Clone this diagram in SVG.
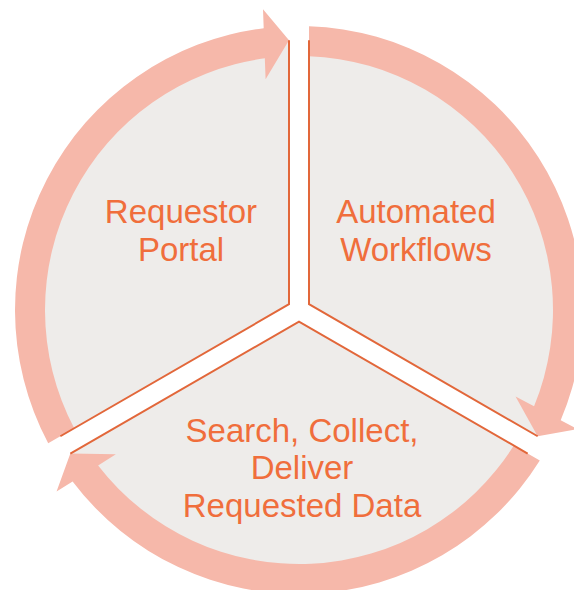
<svg xmlns="http://www.w3.org/2000/svg" width="574" height="590" viewBox="0 0 574 590">
  <style>
    .sector { fill: #EEECEA; stroke: none; }
    .arrow { fill: #F6B8AA; stroke: none; }
    .divider { fill: none; stroke: #E2673A; stroke-width: 2; stroke-linejoin: miter; }
    .label { font-family: "Liberation Sans", Arial, sans-serif; font-size: 33px; fill: #F06E3C; text-anchor: middle; }
  </style>
  <defs>
    <path id="sectorShape" d="M 289 304.23 L 289 40.19 A 270 270 0 0 0 60.34 436.25 Z"/>
    <path id="arrowShape" d="M 74.20 428.24 L 48.20 443.25 A 284 284 0 0 1 263.70 28.20 L 263.00 9.28 L 289.00 40.19 L 265.60 79.24 L 264.81 58.31 A 254 254 0 0 0 74.20 428.24 Z"/>
  </defs>
  <rect width="574" height="590" fill="#FFFFFF"/>

  <g id="node-requestor-portal">
    <use href="#sectorShape" class="sector"/>
    <text class="label" x="181" y="223">Requestor</text>
    <text class="label" x="181" y="261">Portal</text>
  </g>
  <g id="node-automated-workflows">
    <use href="#sectorShape" class="sector" transform="rotate(120 299 310)"/>
    <text class="label" x="416" y="223">Automated</text>
    <text class="label" x="416" y="261">Workflows</text>
  </g>
  <g id="node-search-collect-deliver">
    <use href="#sectorShape" class="sector" transform="rotate(240 299 310)"/>
    <text class="label" x="302" y="442">Search, Collect,</text>
    <text class="label" x="302" y="479">Deliver</text>
    <text class="label" x="302" y="517">Requested Data</text>
  </g>

  <g id="connectors">
    <use href="#arrowShape" class="arrow"/>
    <use href="#arrowShape" class="arrow" transform="rotate(120 299 310)"/>
    <use href="#arrowShape" class="arrow" transform="rotate(240 299 310)"/>
  </g>

  <g id="dividers">
    <polyline class="divider" points="289,40.19 289,304.23 60.34,436.25"/>
    <polyline class="divider" points="309,40.19 309,304.23 537.66,436.25"/>
    <polyline class="divider" points="70.34,453.57 299,321.55 527.66,453.57"/>
  </g>
</svg>
